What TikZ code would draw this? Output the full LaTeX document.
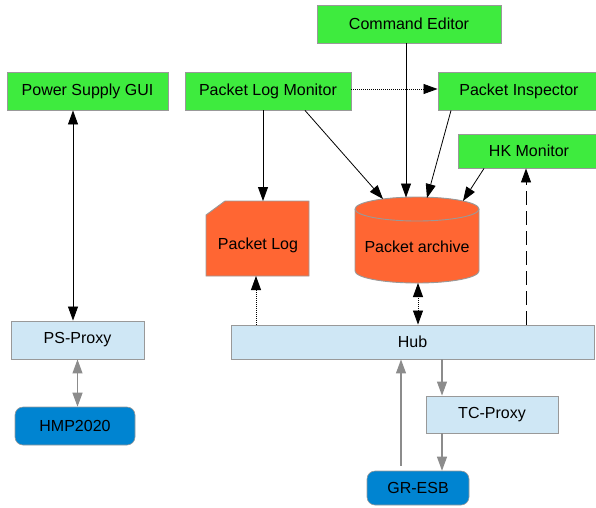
\documentclass[tikz,border=0pt]{standalone}
\usepackage{fontspec}
\setmainfont{Liberation Sans}
\usetikzlibrary{arrows.meta}
\definecolor{appgreen}{HTML}{3EEB3E}
\definecolor{storeorange}{HTML}{FF6633}
\definecolor{proxyblue}{HTML}{CFE7F5}
\definecolor{devblue}{HTML}{0084D1}
\definecolor{edgegray}{HTML}{999999}
\definecolor{linkgray}{HTML}{8C8C8C}
\tikzset{
  every node/.style={font=\fontsize{16}{19}\selectfont, inner sep=0pt},
  appbox/.style={rectangle, draw=edgegray, line width=0.9pt, fill=appgreen},
  proxybox/.style={rectangle, draw=edgegray, line width=0.9pt, fill=proxyblue},
  devbox/.style={rectangle, rounded corners=8pt, draw=edgegray, line width=0.6pt, fill=devblue},
  store/.style={draw=edgegray, line width=0.9pt, fill=storeorange},
  tip/.style={-{Triangle[length=14pt,width=10pt]}},
  tips/.style={{Triangle[length=14pt,width=10pt]}-{Triangle[length=14pt,width=10pt]}},
  flow/.style={line width=0.8pt, black},
  graylink/.style={line width=1.1pt, linkgray},
  dotline/.style={line width=0.8pt, dash pattern=on 1pt off 1pt},
  longdash/.style={line width=0.9pt, dash pattern=on 14pt off 6pt},
}
\begin{document}
\begin{tikzpicture}[x=1pt,y=1pt]
\useasboundingbox (0,0) rectangle (596,-507);
\clip (0,0) rectangle (596,-507);

% application boxes
\node[appbox, minimum width=184pt, minimum height=38pt] (cmd)   at (409,-24)   {Command Editor};
\node[appbox, minimum width=161pt, minimum height=38pt] (psgui) at (87.5,-91)  {Power Supply GUI};
\node[appbox, minimum width=166pt, minimum height=38pt] (plm)   at (268,-91)   {Packet Log Monitor};
\node[appbox, minimum width=162pt, minimum height=38pt] (pins)  at (519,-91)   {Packet Inspector};
\node[appbox, minimum width=142pt, minimum height=34pt] (hk)    at (529,-151)  {HK Monitor};

% proxies and hub
\node[proxybox, minimum width=363pt, minimum height=34pt] (hub)     at (412.5,-342) {Hub};
\node[proxybox, minimum width=133pt, minimum height=38pt] (psproxy) at (77.5,-340)  {PS-Proxy};
\node[proxybox, minimum width=132pt, minimum height=37pt] (tcp)     at (492,-414.5) {TC-Proxy};

% devices
\node[devbox, minimum width=120pt, minimum height=38pt] (hmp)   at (75,-426)  {HMP2020};
\node[devbox, minimum width=102pt, minimum height=34pt] (gresb) at (418,-488) {GR-ESB};

% packet log (document with a cut corner)
\path[store] (206,-215) -- (225,-201) -- (309,-201) -- (309,-276) -- (206,-276) -- cycle;
\node (plog) at (258,-245) {Packet Log};
\coordinate (plogtop) at (263,-201);
\coordinate (plogbot) at (256,-276);

% packet archive (cylinder)
\path[store] (355,-209) -- (355,-271)
  arc[start angle=180, end angle=360, x radius=62, y radius=12]
  -- (479,-209)
  arc[start angle=0, end angle=180, x radius=62, y radius=12] -- cycle;
\draw[edgegray, line width=0.9pt] (355,-209) arc[start angle=180, end angle=360, x radius=62, y radius=12];
\node (parc) at (417,-247) {Packet archive};
\coordinate (arcA) at (383,-199);
\coordinate (arcB) at (406,-197.5);
\coordinate (arcC) at (427,-198);
\coordinate (arcD) at (463,-201);
\coordinate (arcbot) at (418,-283);

% black connectors
\draw[flow, tips] ([xshift=-14.5pt]psgui.south) -- ([xshift=-4.5pt]psproxy.north);
\draw[flow, tip] ([xshift=-5pt]plm.south) -- (plogtop);
\draw[flow, tip] ([xshift=37pt]plm.south) -- (arcA);
\draw[flow, tip] ([xshift=-3pt]cmd.south) -- (arcB);
\draw[flow, tip] ([xshift=-68pt]pins.south) -- (arcC);
\draw[flow, tip] ([xshift=-45pt]hk.south) -- (arcD);
\draw[flow, dotline, tip] ([yshift=2pt]plm.east) -- ([yshift=2pt]pins.west);

\coordinate (hkin) at ([xshift=-3pt]hk.south);
\draw[flow, longdash, tip] (hkin |- hub.north) -- (hkin);
\draw[flow, dotline, tip] (plogbot |- hub.north) -- (plogbot);
\draw[flow, dotline, tips] (arcbot |- hub.north) -- (arcbot);

% gray connectors
\draw[graylink, tips] (psproxy.south) -- (psproxy.south |- hmp.north);
\coordinate (gup) at ([xshift=-17pt, yshift=5pt]gresb.north);
\draw[graylink, tip] (gup) -- (gup |- hub.south);
\coordinate (tcin) at ([xshift=-50pt]tcp.north);
\draw[graylink, tip] (tcin |- hub.south) -- (tcin);
\coordinate (tcout) at ([xshift=-50pt]tcp.south);
\draw[graylink, tip] (tcout) -- (tcout |- gresb.north);
\end{tikzpicture}
\end{document}
